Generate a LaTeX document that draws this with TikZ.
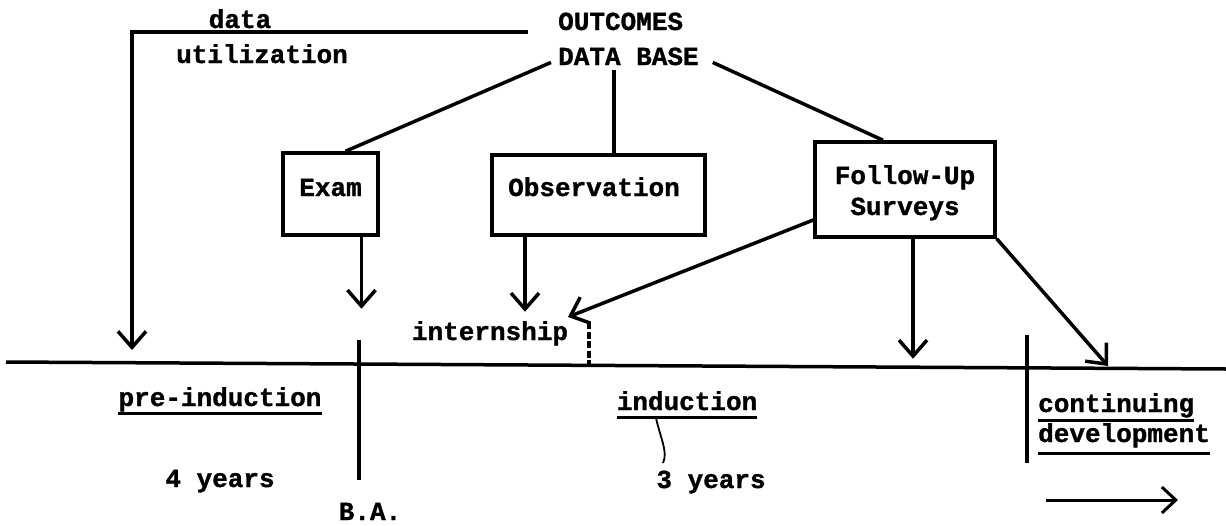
\documentclass[tikz,border=0pt]{standalone}
\usepackage{fontspec}
\newfontfamily\tw[BoldFont={Liberation Mono Bold},BoldFeatures={FakeBold=1.2}]{Liberation Mono}
\usetikzlibrary{arrows.meta}
\begin{document}
\begin{tikzpicture}[x=1pt,y=-1pt,
  txt/.style={font=\tw\bfseries\fontsize{26}{30}\selectfont, inner sep=0pt},
  box/.style={draw, line width=3.5pt, inner sep=0pt},
  ln/.style={line width=3.5pt},
  ul/.style={line width=3pt},
  arr/.style={line width=3.5pt, -{Straight Barb[length=16pt,width=28pt]}},
]
\useasboundingbox (0,0) rectangle (1226,525);

% top labels
\node[txt, anchor=base] (data) at (240,28) {data};
\node[txt, anchor=base] (util) at (262,63) {utilization};
\node[txt, anchor=base west] (outc) at (558,30) {OUTCOMES};
\node[txt, anchor=base west] (dbase) at (558,65) {DATA BASE};

% boxes
\node[box, minimum width=95pt, minimum height=82pt] (exam) at (330.5,194) {};
\node[txt, anchor=base] (examt) at (330.5,196) {Exam};
\node[box, minimum width=213pt, minimum height=80pt] (obs) at (598.5,195) {};
\node[txt, anchor=base] (obst) at (594,196) {Observation};
\node[box, minimum width=180pt, minimum height=95pt] (fu) at (905,189.5) {};
\node[txt, anchor=base] (fut1) at (905,184) {Follow-Up};
\node[txt, anchor=base] (fut2) at (905,215) {Surveys};

% data utilization feedback
\coordinate (dlineR) at (528,32);
\coordinate (dcorner) at (132,32);
\coordinate (dtip) at (132,350);
\draw[arr] (dlineR) -- (dcorner) -- (dtip);

% data base links
\draw[ln] ([xshift=-7pt,yshift=3pt]dbase.south west) -- ([xshift=15pt]exam.north);
\draw[ln] ([xshift=15.5pt]obs.north) -- ++(0,-83);
\draw[ln] ([xshift=14pt,yshift=3pt]dbase.south east) -- ([xshift=-22pt]fu.north);

% timeline
\coordinate (tlL) at (6,362);
\coordinate (tlR) at (1226,369);
\draw[ln] (tlL) -- (tlR);

% arrows down
\coordinate (intip) at (568,317);
\coordinate (cdtip) at (1108,366);
\draw[arr] ([xshift=31pt]exam.south) -- ++(0,72);
\draw[arr] ([xshift=-73.5pt]obs.south) -- ++(0,75);
\draw[arr] ([yshift=-30.5pt]fu.west) -- (intip);
\draw[arr] ([xshift=8pt]fu.south) -- ++(0,120);
\draw[arr] (fu.south east) -- (cdtip);

% internship
\node[txt, anchor=base] (intern) at (490,340) {internship};
\coordinate (dashT) at (589,322);
\coordinate (dashB) at (589,365);
\draw[line width=3.5pt, dash pattern=on 7pt off 2.5pt] (dashT) -- (dashB);

% period dividers
\coordinate (baT) at (359,340);
\coordinate (baB) at (359,480);
\draw[ln] (baT) -- (baB);
\coordinate (cdT) at (1027,335);
\coordinate (cdB) at (1027,463);
\draw[ln] (cdT) -- (cdB);

% period labels
\node[txt, anchor=base] (pre) at (220,406) {pre-induction};
\draw[ul] ([yshift=-7pt]pre.base west) -- ([yshift=-7pt]pre.base east);
\node[txt, anchor=base] (four) at (220,487) {4 years};
\node[txt, anchor=base] (ba) at (370,520) {B.A.};
\node[txt, anchor=base] (ind) at (687,410) {induction};
\draw[ul] ([yshift=-7pt]ind.base west) -- ([yshift=-7pt]ind.base east);
\draw[line width=1.8pt] (656,418) .. controls (661,440) and (668,452) .. (663,463);
\node[txt, anchor=base] (three) at (711,488) {3 years};
\node[txt, anchor=base west] (cont) at (1038,412) {continuing};
\draw[ul] ([yshift=-8pt]cont.base west) -- ([yshift=-8pt]cont.base east);
\node[txt, anchor=base west] (devel) at (1038,442) {development};
\draw[ul] ([yshift=-11pt]devel.base west) -- ([yshift=-11pt]devel.base east);

% continuing arrow
\coordinate (caL) at (1046,500);
\coordinate (caR) at (1178,500);
\draw[line width=3pt, -{Straight Barb[length=14pt,width=26pt]}] (caL) -- (caR);
\end{tikzpicture}
\end{document}
